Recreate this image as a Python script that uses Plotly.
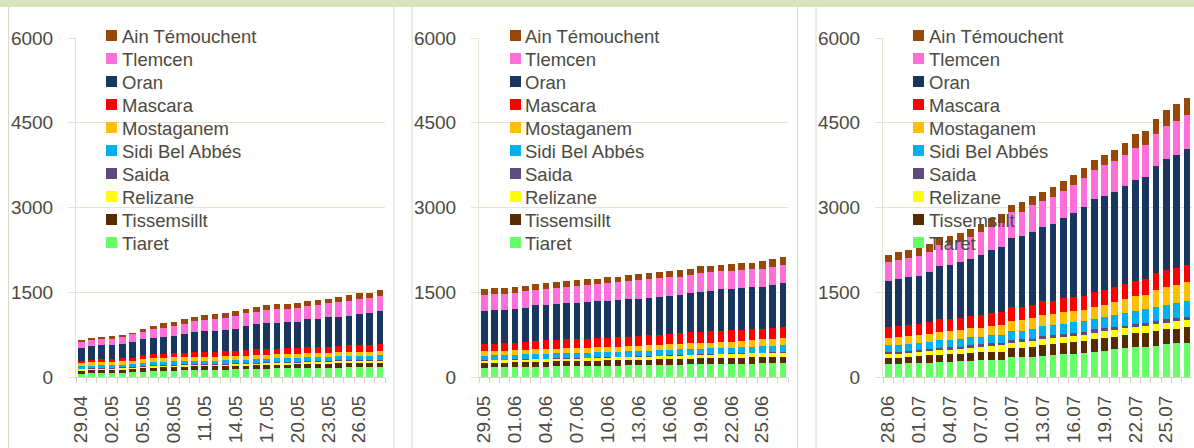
import plotly.graph_objects as go

# ---------------- data ----------------
series = ["Tiaret", "Tissemsillt", "Relizane", "Saida", "Sidi Bel Abbés",
          "Mostaganem", "Mascara", "Oran", "Tlemcen", "Ain Témouchent"]
colors = ["#66FF66", "#582A00", "#FFFF00", "#604A7B", "#00B0F0",
          "#FFC000", "#FF0000", "#17375E", "#FF6FDA", "#974706"]

dates_1 = ["29.04", "30.04", "01.05", "02.05", "03.05", "04.05", "05.05", "06.05", "07.05", "08.05",
           "09.05", "10.05", "11.05", "12.05", "13.05", "14.05", "15.05", "16.05", "17.05", "18.05",
           "19.05", "20.05", "21.05", "22.05", "23.05", "24.05", "25.05", "26.05", "27.05", "28.05"]
dates_2 = ["29.05", "30.05", "31.05", "01.06", "02.06", "03.06", "04.06", "05.06", "06.06", "07.06",
           "08.06", "09.06", "10.06", "11.06", "12.06", "13.06", "14.06", "15.06", "16.06", "17.06",
           "18.06", "19.06", "20.06", "21.06", "22.06", "23.06", "24.06", "25.06", "26.06", "27.06"]
dates_3 = ["28.06", "29.06", "30.06", "01.07", "02.07", "03.07", "04.07", "05.07", "06.07", "07.07",
           "08.07", "09.07", "10.07", "11.07", "12.07", "13.07", "14.07", "15.07", "16.07", "17.07",
           "18.07", "19.07", "20.07", "21.07", "22.07", "23.07", "24.07", "25.07", "26.07", "27.07"]

y_ticks = [0, 1500, 3000, 4500, 6000]

# panel 1 : 29.04 - 28.05
p1_tiaret = [53, 65, 71, 71, 77, 83, 89, 106, 112, 112, 118, 124, 124, 124, 130, 136, 136, 142, 148, 153,
             153, 159, 159, 159, 165, 165, 171, 171, 171, 177]
p1_tissemsilt = [59, 53, 53, 53, 53, 53, 65, 59, 59, 65, 65, 65, 65, 65, 65, 65, 65, 65, 65, 65,
                 65, 65, 71, 71, 71, 77, 77, 77, 77, 77]
p1_relizane = [24, 24, 24, 24, 24, 24, 24, 24, 24, 24, 24, 24, 24, 24, 24, 24, 30, 30, 30, 30,
               30, 30, 30, 30, 35, 35, 35, 35, 35, 35]
p1_saida = [12, 12, 12, 18, 18, 18, 18, 18, 18, 18, 18, 18, 18, 18, 18, 18, 18, 18, 18, 18,
            18, 18, 18, 18, 18, 18, 18, 18, 18, 18]
p1_sba = [41, 47, 47, 47, 47, 53, 59, 59, 59, 59, 59, 59, 59, 59, 59, 59, 59, 65, 65, 65,
          71, 71, 71, 71, 71, 71, 71, 77, 77, 77]
p1_mostaganem = [59, 59, 59, 59, 59, 59, 71, 71, 71, 71, 71, 71, 71, 71, 71, 71, 71, 71, 71, 71,
                 71, 71, 71, 71, 71, 71, 71, 71, 71, 71]
p1_mascara = [41, 41, 47, 47, 53, 53, 59, 65, 71, 71, 77, 83, 83, 89, 89, 89, 94, 100, 100, 100,
              100, 100, 106, 106, 106, 112, 118, 118, 118, 130]
p1_oran = [230, 248, 248, 254, 254, 283, 283, 295, 301, 307, 325, 354, 372, 372, 378, 384, 437, 454, 454, 460,
           466, 466, 496, 502, 519, 519, 525, 555, 566, 590]
p1_tlemcen = [94, 100, 106, 100, 118, 130, 136, 153, 159, 177, 189, 195, 195, 207, 218, 242, 218, 212, 242, 242,
              236, 236, 242, 254, 260, 260, 260, 260, 260, 266]
p1_aintemouchent = [41, 41, 41, 47, 47, 30, 53, 53, 77, 65, 83, 77, 94, 83, 83, 83, 83, 83, 83, 89,
                    89, 89, 83, 83, 71, 83, 100, 100, 100, 94]

# panel 2 : 29.05 - 27.06
p2_tiaret = [165, 171, 171, 177, 177, 183, 183, 189, 189, 195, 195, 195, 201, 201, 207, 207, 212, 212, 218, 218,
             224, 224, 230, 230, 236, 236, 236, 242, 242, 248]
p2_tissemsilt = [83, 83, 83, 83, 89, 89, 89, 89, 89, 89, 89, 94, 94, 94, 94, 94, 94, 100, 100, 100,
                 100, 106, 100, 106, 100, 106, 112, 106, 112, 112]
p2_relizane = [41, 41, 41, 41, 41, 41, 41, 41, 41, 41, 47, 47, 47, 53, 47, 53, 53, 53, 53, 59,
               59, 59, 65, 65, 71, 71, 71, 71, 71, 71]
p2_saida = [12, 12, 12, 12, 12, 12, 12, 12, 12, 12, 12, 12, 12, 12, 12, 12, 12, 12, 12, 12,
            12, 12, 12, 12, 12, 12, 12, 12, 12, 12]
p2_sba = [77, 77, 83, 77, 83, 83, 89, 89, 89, 89, 89, 89, 89, 89, 94, 94, 94, 100, 100, 100,
          100, 100, 100, 100, 100, 106, 106, 112, 118, 124]
p2_mostaganem = [83, 77, 77, 83, 83, 83, 83, 83, 89, 89, 89, 89, 89, 89, 89, 94, 94, 94, 94, 94,
                 100, 100, 100, 106, 106, 106, 118, 124, 124, 124]
p2_mascara = [118, 130, 130, 136, 142, 148, 153, 153, 159, 159, 159, 159, 165, 165, 171, 171, 177, 177, 183, 189,
              195, 195, 201, 201, 201, 195, 189, 183, 189, 189]
p2_oran = [596, 596, 596, 596, 602, 631, 625, 631, 637, 637, 643, 655, 655, 661, 661, 661, 667, 673, 673, 684,
           702, 708, 708, 732, 738, 738, 749, 749, 755, 785]
p2_tlemcen = [277, 283, 283, 289, 289, 271, 283, 289, 289, 301, 307, 301, 313, 319, 325, 325, 330, 325, 330, 319,
              307, 342, 342, 325, 319, 325, 313, 319, 330, 325]
p2_aintemouchent = [106, 100, 100, 100, 94, 106, 106, 106, 106, 106, 100, 100, 100, 94, 100, 106, 106, 112, 112, 112,
                    112, 112, 106, 112, 118, 118, 118, 136, 130, 130]

# panel 3 : 28.06 - 27.07
p3_tiaret = [236, 236, 242, 248, 254, 271, 271, 283, 289, 295, 295, 301, 354, 360, 360,
             378, 389, 407, 407, 419, 443, 466, 490, 507, 525, 537, 555, 584, 596, 608]
p3_tissemsilt = [94, 100, 118, 118, 130, 124, 130, 130, 142, 142, 153, 148, 153, 159, 171,
                 195, 201, 201, 207, 212, 236, 230, 224, 242, 248, 248, 266, 260, 260, 277]
p3_relizane = [77, 71, 65, 71, 83, 83, 83, 83, 89, 94, 100, 112, 100, 100, 106,
               106, 106, 106, 118, 118, 106, 118, 124, 112, 112, 118, 118, 118, 130, 124]
p3_saida = [35, 35, 35, 35, 35, 41, 41, 41, 41, 47, 47, 47, 47, 47, 41,
            47, 47, 47, 47, 53, 59, 53, 53, 47, 53, 53, 59, 59, 59, 53]
p3_sba = [118, 130, 130, 124, 124, 136, 136, 142, 142, 136, 148, 142, 153, 153, 171,
          183, 183, 183, 189, 183, 189, 201, 212, 230, 236, 242, 248, 254, 260, 277]
p3_mostaganem = [130, 136, 136, 142, 142, 148, 153, 153, 159, 159, 159, 171, 189, 189, 189,
                 183, 183, 201, 207, 201, 207, 207, 230, 242, 254, 254, 289, 319, 325, 336]
p3_mascara = [189, 201, 201, 207, 207, 218, 212, 218, 224, 224, 224, 236, 236, 236, 230,
              248, 242, 248, 242, 248, 260, 266, 260, 271, 271, 277, 307, 295, 295, 307]
p3_oran = [826, 832, 838, 844, 879, 950, 962, 979, 1009, 1068, 1121, 1151, 1233, 1251, 1304,
           1322, 1363, 1416, 1493, 1581, 1658, 1670, 1687, 1735, 1794, 1817, 1894, 1977, 2012, 2053]
p3_tlemcen = [325, 330, 342, 360, 360, 372, 360, 366, 378, 395, 401, 413, 448, 425, 466,
              454, 472, 490, 490, 513, 507, 543, 549, 549, 561, 566, 572, 584, 596, 596]
p3_aintemouchent = [130, 136, 136, 130, 136, 142, 148, 148, 153, 148, 159, 159, 130, 177, 159,
                    165, 171, 171, 177, 177, 177, 183, 189, 212, 248, 242, 260, 277, 295, 301]

panels = [
    (dates_1, [p1_tiaret, p1_tissemsilt, p1_relizane, p1_saida, p1_sba,
               p1_mostaganem, p1_mascara, p1_oran, p1_tlemcen, p1_aintemouchent]),
    (dates_2, [p2_tiaret, p2_tissemsilt, p2_relizane, p2_saida, p2_sba,
               p2_mostaganem, p2_mascara, p2_oran, p2_tlemcen, p2_aintemouchent]),
    (dates_3, [p3_tiaret, p3_tissemsilt, p3_relizane, p3_saida, p3_sba,
               p3_mostaganem, p3_mascara, p3_oran, p3_tlemcen, p3_aintemouchent]),
]

# ---------------- layout constants ----------------
W, H = 1194, 448
FONT = "'Liberation Sans', Arial, sans-serif"
TXT = "#4D4A3F"
GRID = "#E6E2D4"
AXL = "#D8D3C0"

plot_left = [76, 479, 883]
plot_w = 309
y_bot, y_top = 377, 38
sym_left = [106, 510, 913]
txt_left = [120, 523, 927]
leg_top, leg_step = 35.5, 23

fig = go.Figure()
layout = dict(
    width=W, height=H, margin=dict(l=0, r=0, t=0, b=0, autoexpand=False), autosize=False,
    paper_bgcolor="white", plot_bgcolor="white",
    barmode="stack", bargap=0.35, showlegend=False,
    font=dict(family=FONT, color=TXT, size=18),
)
shapes = []
annotations = []

for k, (dates, vals) in enumerate(panels):
    sfx = "" if k == 0 else str(k + 1)
    for name, col, v in zip(series, colors, vals):
        fig.add_trace(go.Bar(
            x=dates, y=v, name=name, marker=dict(color=col, line=dict(width=0)),
            xaxis="x" + sfx, yaxis="y" + sfx,
        ))
    ticktext = [d if i % 3 == 0 else "" for i, d in enumerate(dates)]
    layout["xaxis" + sfx] = dict(
        domain=[plot_left[k] / W, (plot_left[k] + plot_w) / W], anchor="y" + sfx,
        type="category", tickmode="array", tickvals=dates, ticktext=ticktext,
        tickangle=-90, tickson="boundaries", ticks="outside", ticklen=5, tickcolor=AXL,
        showline=True, linecolor=AXL, linewidth=1, showgrid=False, automargin=False,
        tickfont=dict(size=19, color=TXT, family=FONT), ticklabelstandoff=10,
        fixedrange=True,
    )
    layout["yaxis" + sfx] = dict(
        domain=[1 - y_bot / H, 1 - y_top / H], anchor="x" + sfx,
        range=[0, 6000], tickmode="array", tickvals=y_ticks,
        ticks="outside", ticklen=7, tickcolor=GRID,
        showgrid=True, gridcolor=GRID, gridwidth=1, zeroline=False,
        showline=True, linecolor=GRID, linewidth=1, automargin=False,
        tickfont=dict(size=19, color=TXT, family=FONT), ticklabelstandoff=11,
        fixedrange=True,
    )
    # legend (top entry = last series, as in the stacked chart)
    for i, (name, col) in enumerate(zip(series[::-1], colors[::-1])):
        yc = leg_top + i * leg_step
        shapes.append(dict(type="rect", xref="paper", yref="paper",
                           x0=sym_left[k] / W, x1=(sym_left[k] + 11) / W,
                           y0=1 - (yc + 5.5) / H, y1=1 - (yc - 5.5) / H,
                           fillcolor=col, line=dict(width=0), layer="above"))
        annotations.append(dict(text=name, xref="paper", yref="paper",
                                x=txt_left[k] / W, y=1 - (yc + 1) / H,
                                xanchor="left", yanchor="middle", showarrow=False,
                                font=dict(size=18.5, color=TXT, family=FONT)))

# frame: top band and panel borders
shapes.append(dict(type="rect", xref="paper", yref="paper", x0=0, x1=1, y0=1 - 7 / H, y1=1,
                   fillcolor="#D8E4BC", line=dict(width=0), layer="below"))
for px in [8.5, 394, 412, 797.5, 816]:
    shapes.append(dict(type="line", xref="paper", yref="paper", x0=px / W, x1=px / W,
                       y0=0, y1=1 - 7 / H, line=dict(color="#DCD8C8", width=1)))
layout["shapes"] = shapes
layout["annotations"] = annotations

fig.update_layout(**layout)
fig.write_html(
    "out.html", config={"displayModeBar": False, "staticPlot": True},
    post_script=("document.documentElement.style.margin='0';"
                 "document.body.style.margin='0';document.body.style.padding='0';"
                 "document.body.style.overflow='hidden';"),
)
